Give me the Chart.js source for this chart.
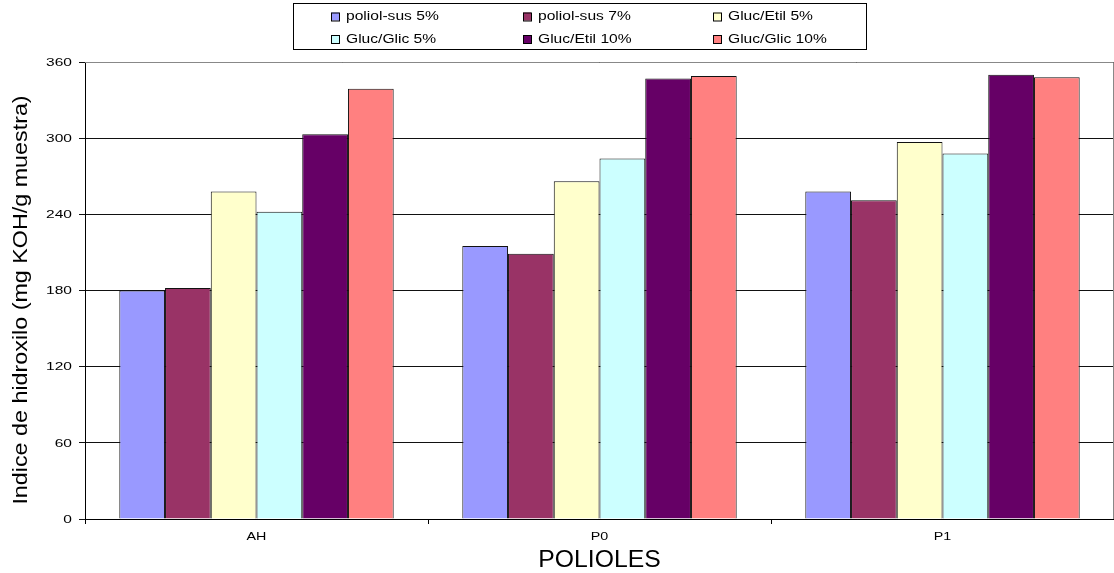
<!DOCTYPE html>
<html>
<head>
<meta charset="utf-8">
<script src="https://cdn.jsdelivr.net/npm/chart.js@4/dist/chart.umd.min.js"></script>
<style>
  html, body { margin: 0; padding: 0; background: #fff; }
  #c { display: block; }
</style>
</head>
<body>
<canvas id="c" width="1114" height="573"></canvas>
<script>
// Hydroxyl index per polyol and catalyst formulation
const categories = ['AH', 'P0', 'P1'];
const seriesNames = ['poliol-sus 5%', 'poliol-sus 7%', 'Gluc/Etil 5%', 'Gluc/Glic 5%', 'Gluc/Etil 10%', 'Gluc/Glic 10%'];
const poliolSus5 = [180, 215, 258];
const poliolSus7 = [182, 209, 251];
const glucEtil5 = [258, 266, 297];
const glucGlic5 = [242, 284, 288];
const glucEtil10 = [303, 347, 350];
const glucGlic10 = [339, 349, 348];
const yTicks = [0, 60, 120, 180, 240, 300, 360];
const xTitle = 'POLIOLES';
const yTitle = 'Indice de hidroxilo (mg KOH/g muestra)';

const seriesValues = [poliolSus5, poliolSus7, glucEtil5, glucGlic5, glucEtil10, glucGlic10];
const colors = ['#9999FF', '#993366', '#FFFFCC', '#CCFFFF', '#660066', '#FF8080'];
const FONT = '"Liberation Sans", Arial, sans-serif';

const datasets = seriesNames.map((name, i) => ({
  label: name,
  data: seriesValues[i],
  backgroundColor: colors[i],
  borderColor: '#111',
  borderWidth: 1,
  borderSkipped: 'bottom',
  categoryPercentage: 0.8,
  barPercentage: 1.0
}));

// Text drawn with a horizontal stretch along its own direction
function wideText(ctx, text, x, y, size, sx, align, baseline, angle) {
  ctx.save();
  ctx.translate(x, y);
  if (angle) ctx.rotate(angle);
  ctx.scale(sx, 1);
  ctx.font = size + 'px ' + FONT;
  ctx.fillStyle = '#000';
  ctx.textAlign = align;
  ctx.textBaseline = baseline;
  ctx.fillText(text, 0, 0);
  ctx.restore();
}

// Axis labels, titles, plot frame and the boxed legend
const decorations = {
  id: 'decorations',
  afterDraw(chart) {
    const { ctx, chartArea: a } = chart;
    const xs = chart.scales.x, ys = chart.scales.y;

    // grey frame on top and right of the plot area
    ctx.save();
    ctx.strokeStyle = '#888';
    ctx.lineWidth = 1;
    ctx.beginPath();
    ctx.moveTo(a.left, a.top + 0.5);
    ctx.lineTo(a.right - 0.5, a.top + 0.5);
    ctx.lineTo(a.right - 0.5, a.bottom);
    ctx.stroke();
    ctx.restore();

    // value axis labels
    yTicks.forEach(v => {
      wideText(ctx, String(v), a.left - 13, ys.getPixelForValue(v) + 0.5, 11.5, 1.35, 'right', 'middle');
    });
    // category labels
    categories.forEach((c, i) => {
      wideText(ctx, c, xs.getPixelForValue(i), a.bottom + 18, 11, 1.3, 'center', 'middle');
    });
    // axis titles
    wideText(ctx, xTitle, (a.left + a.right) / 2, a.bottom + 48, 24, 1.03, 'center', 'alphabetic');
    wideText(ctx, yTitle, 27, 300, 20, 1.165, 'center', 'alphabetic', -Math.PI / 2);

    // legend box
    const L = { left: 293.5, top: 3.5, right: 866.5, bottom: 49.5 };
    ctx.save();
    ctx.fillStyle = '#fff';
    ctx.fillRect(L.left, L.top, L.right - L.left, L.bottom - L.top);
    ctx.strokeStyle = '#000';
    ctx.lineWidth = 1;
    ctx.strokeRect(L.left, L.top, L.right - L.left, L.bottom - L.top);
    ctx.restore();
    const colX = [331, 523, 713];
    const rowY = [16.5, 39];
    chart.data.datasets.forEach((ds, i) => {
      const bx = colX[i % 3], cy = rowY[Math.floor(i / 3)];
      ctx.save();
      ctx.fillStyle = ds.backgroundColor;
      ctx.fillRect(bx, cy - 4, 8, 8);
      ctx.strokeStyle = '#000';
      ctx.lineWidth = 1;
      ctx.strokeRect(bx + 0.5, cy - 3.5, 8, 8);
      ctx.restore();
      wideText(ctx, ds.label, bx + 15, cy + 0.5, 12, 1.3, 'left', 'middle');
    });
  }
};

new Chart(document.getElementById('c'), {
  type: 'bar',
  data: { labels: categories, datasets },
  options: {
    responsive: false,
    animation: false,
    layout: { padding: { top: 62, right: 0, left: 0, bottom: 0 } },
    plugins: { legend: { display: false }, tooltip: { enabled: false } },
    scales: {
      x: {
        grid: { display: true, offset: true, drawOnChartArea: false, drawTicks: true, tickLength: 5, color: '#000' },
        border: { display: true, color: '#000', width: 1 },
        ticks: { display: false },
        afterFit(scale) { scale.height = 54; }
      },
      y: {
        min: 0, max: 360,
        afterBuildTicks(scale) { scale.ticks = yTicks.map(v => ({ value: v })); },
        grid: { color: '#111', lineWidth: 1, drawTicks: true, tickLength: 6 },
        border: { display: true, color: '#000', width: 1 },
        ticks: { display: false },
        afterFit(scale) { scale.width = 85; }
      }
    }
  },
  plugins: [decorations]
});
</script>
</body>
</html>
